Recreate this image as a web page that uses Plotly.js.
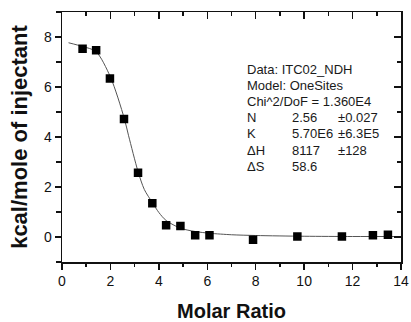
<!DOCTYPE html>
<html>
<head>
<meta charset="utf-8">
<script src="https://cdn.plot.ly/plotly-3.0.1.min.js"></script>
<style>html,body{margin:0;padding:0;background:#fff}#chart{width:411px;height:322px}</style>
</head>
<body>
<div id="chart"></div>
<script>
// Measured data (markers)
const molarRatio = [0.85, 1.41, 1.98, 2.56, 3.14, 3.73, 4.30, 4.89, 5.50, 6.09, 7.89, 9.72, 11.56, 12.84, 13.46];
const heat = [7.53, 7.47, 6.34, 4.72, 2.57, 1.35, 0.47, 0.44, 0.07, 0.07, -0.11, 0.02, 0.02, 0.07, 0.09];

// Fit curve
const fitX = [0.27, 0.85, 1.4, 2.0, 2.57, 2.75, 3.14, 3.4, 3.73, 4.0, 4.3, 4.9, 5.5, 6.1, 7.0, 8.0, 10.0, 12.0, 14.0];
const fitY = [7.77, 7.62, 7.42, 6.40, 4.75, 4.05, 2.62, 1.9, 1.38, 0.98, 0.66, 0.35, 0.22, 0.15, 0.09, 0.06, 0.03, 0.02, 0.02];

const xTickVals = [0, 2, 4, 6, 8, 10, 12, 14];
const yTickVals = [0, 2, 4, 6, 8];

const infoLabels = ["N", "K", "\u0394H", "\u0394S"];
const infoValues = ["2.56", "5.70E6", "8117", "58.6"];
const infoErrors = ["\u00b10.027", "\u00b16.3E5", "\u00b1128", ""];
const headerLines = ["Data: ITC02_NDH", "Model: OneSites", "Chi^2/DoF = 1.360E4"];

const traces = [
  {x: fitX, y: fitY, mode: 'lines', type: 'scatter', line: {color: '#555', width: 1, shape: 'spline', smoothing: 0.8}, hoverinfo: 'skip', showlegend: false},
  {x: molarRatio, y: heat, mode: 'markers', type: 'scatter', marker: {symbol: 'square', size: 8.5, color: '#000'}, showlegend: false},
  {x: [0], y: [0], xaxis: 'x2', yaxis: 'y2', mode: 'markers', marker: {opacity: 0}, hoverinfo: 'skip', showlegend: false}
];

const annotations = [];
const x0 = 245, yStart = 69, dy = 16.2;
headerLines.forEach((t, i) => {
  annotations.push({text: t, _px: [x0, yStart + i * dy]});
});
infoLabels.forEach((t, i) => {
  const yy = yStart + (i + 3) * dy;
  annotations.push({text: t, _px: [x0, yy]});
  annotations.push({text: infoValues[i], _px: [290, yy]});
  if (infoErrors[i]) annotations.push({text: infoErrors[i], _px: [336, yy]});
});
// convert pixel positions to paper coords
const W = 411, H = 322, mL = 62, mR = 10, mT = 12, mB = 60;
const pw = W - mL - mR, ph = H - mT - mB;
const fnt = {family: 'Liberation Sans, Arial, sans-serif', size: 13, color: '#1a1a1a'};
annotations.forEach(a => {
  const [px, py] = a._px;
  a.xref = 'paper'; a.yref = 'paper';
  a.x = (px - mL) / pw; a.y = 1 - (py - mT) / ph;
  a.showarrow = false; a.xanchor = 'left'; a.yanchor = 'middle';
  a.font = fnt;
  delete a._px;
});

const axisCommon = {showgrid: false, zeroline: false, showline: true, linecolor: '#111', linewidth: 1.5, tickcolor: '#111', tickwidth: 1.5};

const layout = {
  width: W, height: H,
  margin: {l: mL, r: mR, t: mT, b: mB},
  paper_bgcolor: '#fff', plot_bgcolor: '#fff',
  showlegend: false,
  font: {family: 'Liberation Sans, Arial, sans-serif', color: '#111'},
  xaxis: Object.assign({}, axisCommon, {
    range: [0, 14], tickvals: xTickVals, ticks: 'outside', ticklen: 6,
    minor: {dtick: 1, ticks: 'outside', ticklen: 3, tickcolor: '#111', tickwidth: 1.5},
    tickfont: {size: 14, color: '#111'},
    title: {text: 'Molar Ratio', font: {size: 20, color: '#111', family: 'Liberation Sans, Arial, sans-serif', weight: 'bold'}, standoff: 19}
  }),
  yaxis: Object.assign({}, axisCommon, {
    range: [-1, 9], tickvals: yTickVals, ticks: 'outside', ticklen: 6,
    minor: {dtick: 1, ticks: 'outside', ticklen: 5, tickcolor: '#111', tickwidth: 1.5},
    tickfont: {size: 14, color: '#111'},
    title: {text: 'kcal/mole of injectant', font: {size: 22, color: '#111', family: 'Liberation Sans, Arial, sans-serif', weight: 'bold'}, standoff: 10}
  }),
  xaxis2: Object.assign({}, axisCommon, {
    overlaying: 'x', side: 'top', anchor: 'y2', range: [0, 14], tickvals: xTickVals, ticks: 'inside', ticklen: 7, showticklabels: false,
    minor: {dtick: 1, ticks: 'inside', ticklen: 4, tickcolor: '#111', tickwidth: 1.5}
  }),
  yaxis2: Object.assign({}, axisCommon, {
    overlaying: 'y', side: 'right', anchor: 'x2', range: [-1, 9], tickvals: yTickVals, ticks: 'inside', ticklen: 7, showticklabels: false,
    minor: {dtick: 1, ticks: 'inside', ticklen: 4, tickcolor: '#111', tickwidth: 1.5}
  }),
  annotations: annotations
};

Plotly.newPlot('chart', traces, layout, {staticPlot: true, displayModeBar: false});
</script>
</body>
</html>
